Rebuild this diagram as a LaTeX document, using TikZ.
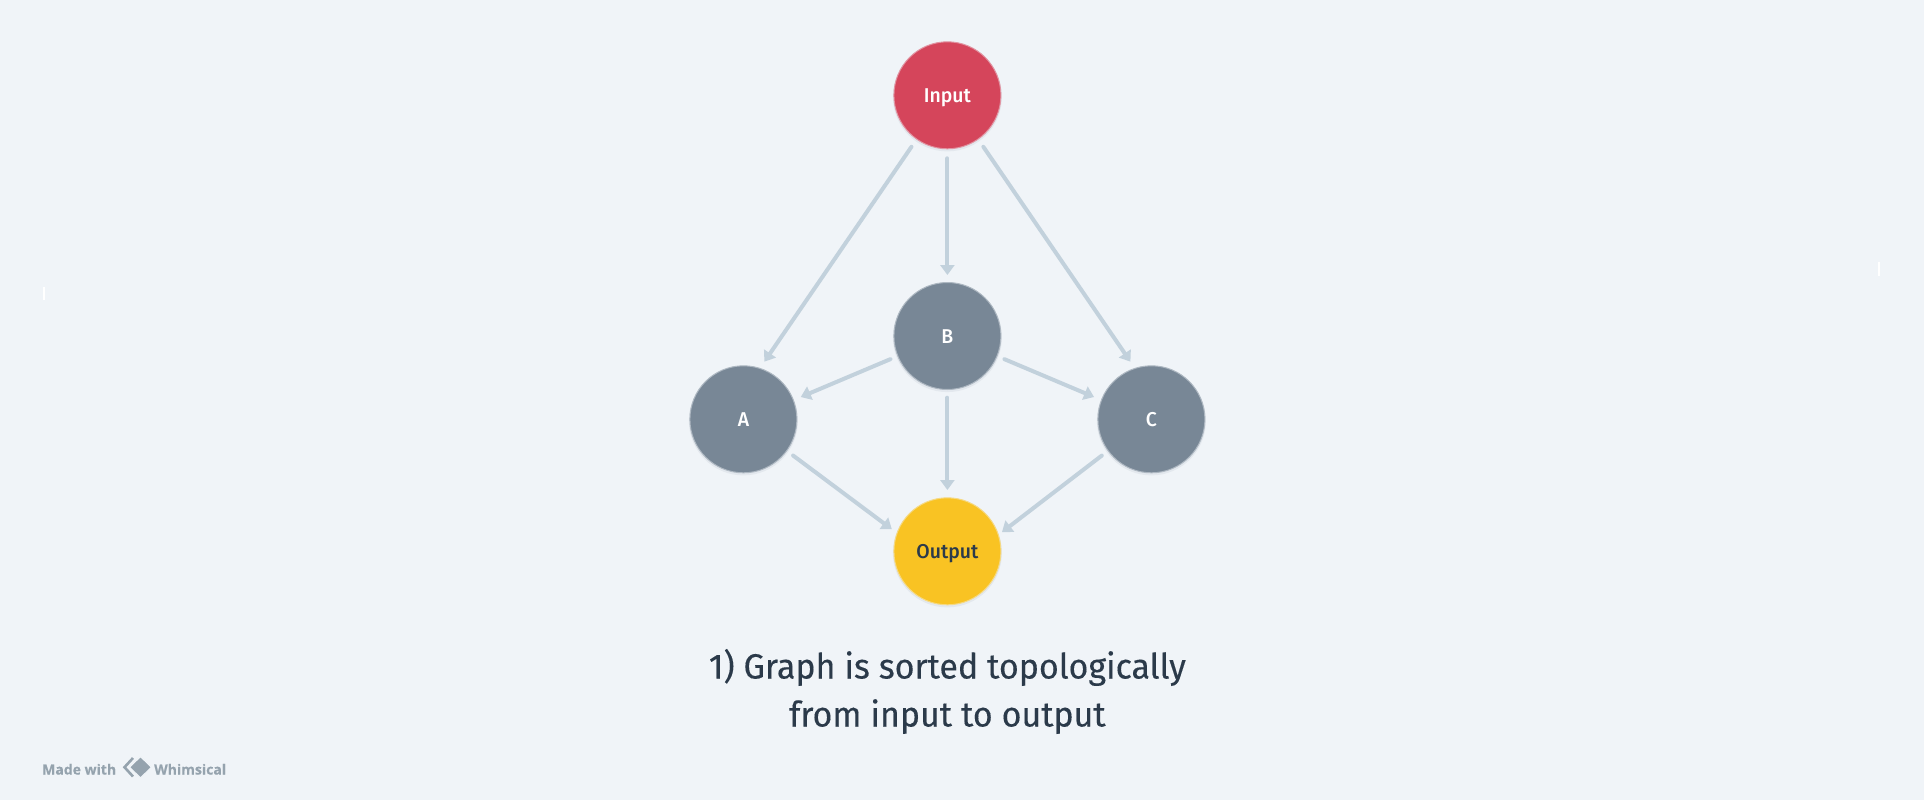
\documentclass[tikz,border=0pt]{standalone}
\usepackage{fontspec}
\setmainfont{Fira Sans}
\newfontfamily\dinfont[FakeStretch=0.97,FakeBold=0.25]{Fira Sans}
\newfontfamily\labelfont[FakeStretch=0.97]{Fira Sans Medium}
\newfontfamily\logofont[FakeBold=0.4]{Open Sans}
\usetikzlibrary{arrows.meta,shadows}
\definecolor{bgc}{HTML}{F0F4F8}
\definecolor{redc}{HTML}{D5455B}
\definecolor{greyc}{HTML}{788796}
\definecolor{yelc}{HTML}{F9C323}
\definecolor{linec}{HTML}{C2D1DC}
\definecolor{inkc}{HTML}{2B3A4A}
\definecolor{logoc}{HTML}{95A3AE}
\definecolor{shadowc}{HTML}{8A98A6}
\tikzset{
  softshadow/.style={
    drop shadow={shadow xshift=0pt,shadow yshift=-1.5pt,shadow scale=1.02,fill=shadowc,opacity=.12}},
  nodedisc/.style={circle,minimum size=107pt,inner sep=0pt,line width=1pt,softshadow,
    text height=15pt,text depth=0pt,
    font=\labelfont\fontsize{20}{24}\selectfont,text=white},
  inputdisc/.style={nodedisc,fill=redc,draw=redc!55!bgc},
  middisc/.style={nodedisc,fill=greyc,draw=greyc!55!bgc},
  outputdisc/.style={nodedisc,fill=yelc,draw=yelc!55!bgc,text=inkc},
  edge/.style={draw=linec,line width=4pt,line cap=round,
    -{Triangle[width=14pt,length=10pt]}},
  caption/.style={font=\dinfont\fontsize{35}{40}\selectfont,text=inkc,anchor=base,inner sep=0pt},
  logotext/.style={font=\logofont\bfseries\fontsize{14}{16}\selectfont,text=logoc,inner sep=0pt,anchor=base west},
  tick/.style={fill=white,draw=none}
}
\begin{document}
\begin{tikzpicture}[x=1pt,y=-1pt]
\useasboundingbox (0,0) rectangle (1924,800);
\fill[bgc] (0,0) rectangle (1924,800);
\fill[tick] (43,287) rectangle (45,300);
\fill[tick] (1878,262) rectangle (1880,276);

\node[inputdisc] (input) at (947.4,95.3) {Input};
\node[middisc] (b) at (947.4,336) {B};
\node[middisc] (a) at (743.4,419.3) {A};
\node[middisc] (c) at (1151.4,419.3) {C};
\node[outputdisc] (out) at (947.4,551.3) {Output};

\draw[edge,shorten <=8.8pt,shorten >=7.6pt] (input.235) -- (a.72);
\draw[edge,shorten <=9pt,shorten >=7pt] (input.270) -- (b.90);
\draw[edge,shorten <=8.8pt,shorten >=7.6pt] (input.305) -- (c.108);
\draw[edge,shorten <=7.5pt,shorten >=7.5pt] (b.202) -- (a.21);
\draw[edge,shorten <=7.5pt,shorten >=7.5pt] (b.338) -- (c.159);
\draw[edge,shorten <=7.7pt,shorten >=7.3pt] (b.270) -- (out.90);
\draw[edge,shorten <=7.5pt,shorten >=6pt] (a.-36.6) -- (out.160.3);
\draw[edge,shorten <=7.5pt,shorten >=4pt] (c.216.6) -- (out.18.7);

\node[caption] (cap1) at (947.4,678.5) {1) Graph is sorted topologically};
\node[caption] (cap2) at (947.4,726.5) {from input to output};

\node[logotext] (made) at (42,774.5) {Made with};
\node[logotext] (whim) at (154,774.5) {Whimsical};
\draw[logoc,line width=2.6pt,line join=miter] (133,758) -- (124.5,767.2) -- (133,776.5);
\fill[logoc,draw=bgc,line width=1.2pt] (140.5,756.5) -- (151.5,767.2) -- (140.5,778) -- (129.5,767.2) -- cycle;
\end{tikzpicture}
\end{document}
